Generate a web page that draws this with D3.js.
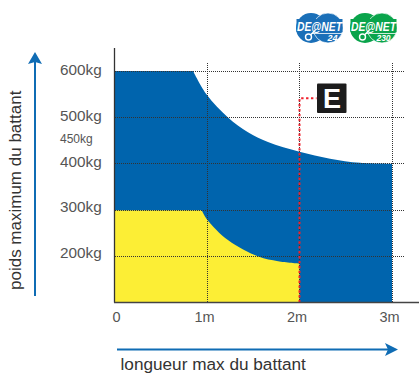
<!DOCTYPE html>
<html><head><meta charset="utf-8">
<script src="https://cdnjs.cloudflare.com/ajax/libs/d3/7.8.5/d3.min.js"></script>
<style>html,body{margin:0;padding:0;background:#fff}svg{display:block}text{font-family:"Liberation Sans",Arial,sans-serif}</style>
</head><body><svg id="c" width="419" height="374"></svg>
<script>
const xTicks=[0,1,2,3];
const xTickLabels=["0","1m","2m","3m"];
const yTicks=[600,500,400,300,200];
const yTickLabels=["600kg","500kg","400kg","300kg","200kg"];
const upperLen=[0.849,1,1.227,1.443,1.659,2,2.33,2.654,3];
const upperKg=[600,548,500,468,447,426,411,402,400];
const lowerLen=[0.943,1,1.23,1.555,1.768,2];
const lowerKg=[300,280,235,200,190,185];

const svg=d3.select("#c");
const x=d3.scaleLinear().domain([0,3]).range([114.5,392]);
const y=d3.scaleLinear().domain([200,600]).range([256.5,71]);
const labelY=d3.scaleLinear().domain([200,600]).range([258,75]);
const base=302.5;
const blue="#0064ad",yellow="#fcee35",ink="#555",arrow="#0f6cb4";

const curve=d3.line().x(d=>x(d[0])).y(d=>y(d[1])).curve(d3.curveCatmullRom.alpha(0.5));
function zone(lens,kgs,fill){
 const c=curve(d3.zip(lens,kgs));
 svg.append("path").attr("d",`M${x(0)},${base}V${y(kgs[0])}L${c.slice(1)}V${base}Z`).attr("fill",fill);
}
zone(upperLen,upperKg,blue);
zone(lowerLen,lowerKg,yellow);

const grid=svg.append("g").attr("shape-rendering","crispEdges");
grid.selectAll("line.h").data(yTicks).join("line").attr("class","h")
 .attr("x1",114.5).attr("x2",404).attr("y1",d=>y(d)).attr("y2",d=>y(d))
 .attr("stroke","#333").attr("stroke-width",1).attr("stroke-dasharray","1 1");
grid.selectAll("line.v").data([1,2,3]).join("line").attr("class","v")
 .attr("x1",d=>x(d)).attr("x2",d=>x(d)).attr("y1",63).attr("y2",base)
 .attr("stroke","#333").attr("stroke-width",1).attr("stroke-dasharray","1 1");

const eKg=541;
svg.append("path").attr("d",`M${x(2)},${base}V${y(eKg)}H${x(2)+17}`)
 .attr("fill","none").attr("stroke","#f0202c").attr("stroke-width",2).attr("stroke-dasharray","2.4 2.5");

svg.append("rect").attr("x",317).attr("y",83.5).attr("width",29.5).attr("height",29.5).attr("rx",1).attr("fill","#1c1c1c");
svg.append("text").attr("x",332).attr("y",108).attr("text-anchor","middle").attr("font-size",27).attr("font-weight",700).attr("fill","#fff").text("E");

svg.append("line").attr("x1",114.5).attr("x2",114.5).attr("y1",48).attr("y2",base).attr("stroke","#333").attr("stroke-width",1.3);
svg.append("line").attr("x1",114).attr("x2",419).attr("y1",base).attr("y2",base).attr("stroke","#444").attr("stroke-width",1.3);

svg.selectAll("text.xt").data(xTickLabels).join("text").attr("class","xt")
 .attr("x",(d,i)=>i==0?116.5:x(xTicks[i])-2.5).attr("y",322).attr("text-anchor","middle").attr("font-size",14.5).attr("fill",ink).text(d=>d);
svg.selectAll("text.yt").data(yTickLabels).join("text").attr("class","yt")
 .attr("x",60).attr("y",(d,i)=>labelY(yTicks[i])).attr("font-size",15.3).attr("fill",ink).text(d=>d);
svg.append("text").attr("x",60).attr("y",143).attr("font-size",12).attr("fill",ink).text("450kg");

svg.append("text").attr("transform","translate(21,290) rotate(-90)").attr("font-size",17).attr("fill","#333").text("poids maximum du battant");
svg.append("text").attr("x",120.5).attr("y",370).attr("font-size",17.2).attr("fill","#333").text("longueur max du battant");
svg.append("line").attr("x1",35).attr("x2",35).attr("y1",296).attr("y2",62).attr("stroke",arrow).attr("stroke-width",2);
svg.append("path").attr("d","M35,52L42,64L35,62L28,64Z").attr("fill",arrow);
svg.append("line").attr("x1",117).attr("x2",388).attr("y1",349.5).attr("y2",349.5).attr("stroke",arrow).attr("stroke-width",2);
svg.append("path").attr("d","M398,349.5L385,343L388,349.5L385,356Z").attr("fill",arrow);

function logo(cx,color,num){
 const g=svg.append("g").attr("transform",`translate(${cx},28)`);
 g.append("circle").attr("cx",-8.5).attr("r",15).attr("fill",color);
 g.append("circle").attr("cx",8.5).attr("r",15).attr("fill",color).attr("stroke","#fff").attr("stroke-width",0.7);
 g.append("rect").attr("x",-23).attr("y",-9).attr("width",46).attr("height",13).attr("fill",color);
 g.append("text").attr("x",0).attr("y",3).attr("text-anchor","middle").attr("font-size",13).attr("font-weight",700).attr("font-style","italic").attr("fill","#fff").attr("textLength",45).attr("lengthAdjust","spacingAndGlyphs").text("DE@NET");
 g.append("line").attr("x1",-8).attr("x2",23).attr("y1",5.5).attr("y2",5.5).attr("stroke","#fff").attr("stroke-width",0.8);
 g.append("text").attr("x",num.length>2?10:13).attr("y",12.5).attr("text-anchor","middle").attr("font-size",num.length>2?8.5:9).attr("font-weight",700).attr("font-style","italic").attr("fill","#fff").text(num);
 g.append("circle").attr("cx",-11).attr("cy",9).attr("r",3).attr("fill","none").attr("stroke","#fff").attr("stroke-width",1.4);
 g.append("line").attr("x1",-9).attr("x2",-4).attr("y1",7).attr("y2",2).attr("stroke","#fff").attr("stroke-width",1.2);
}
logo(319.5,"#1a6fb8","24");
logo(373.5,"#0aa44b","230");
</script></body></html>
